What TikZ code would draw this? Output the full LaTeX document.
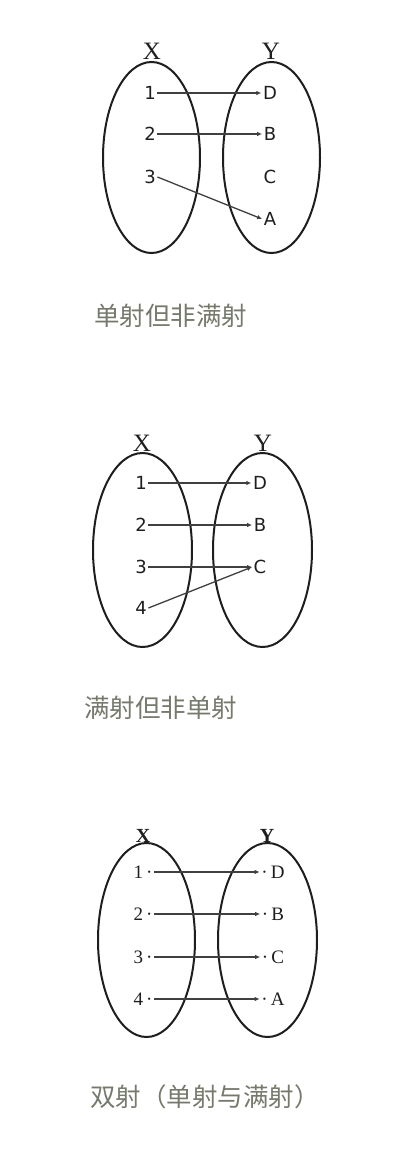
\documentclass[tikz,border=0pt]{standalone}
\usepackage{fontspec}
\usetikzlibrary{arrows.meta}
\newfontfamily\labfont{DejaVu Sans}
\newfontfamily\serffont{Liberation Serif}
\newfontfamily\cjk{Noto Sans CJK SC}
\definecolor{capgray}{RGB}{118,122,108}
\definecolor{ink}{RGB}{30,30,30}
\tikzset{
  setell/.style={draw=ink, line width=2pt},
  elem/.style={inner sep=1.5pt, font=\labfont\fontsize{18}{18}\selectfont, text=ink},
  selem/.style={inner sep=1.5pt, font=\serffont\fontsize{19}{19}\selectfont, text=ink},
  setname/.style={inner sep=0pt, font=\serffont\fontsize{25}{25}\selectfont, text=ink},
  bsetname/.style={inner sep=0pt, font=\serffont\bfseries\fontsize{20}{20}\selectfont, text=ink},
  arr/.style={draw=ink!85, line width=1.3pt, -{Latex[length=5pt,width=4.5pt]}},
  captext/.style={anchor=west, inner sep=0pt, font=\cjk\fontsize{25.5}{25.5}\selectfont, text=capgray}
}
\begin{document}
\begin{tikzpicture}[x=1pt,y=-1pt]
\useasboundingbox[fill=white] (0,0) rectangle (402,1162);
% ---------- diagram 1 ----------
\draw[setell] (151.5,157.5) ellipse [x radius=48.5, y radius=95.5];
\draw[setell] (271.5,157.5) ellipse [x radius=48.5, y radius=95.5];
\node[setname] (aX) at (152,51) {X};
\node[setname] (aY) at (271,51) {Y};
\node[elem] (a1) at (150,93) {1};
\node[elem] (a2) at (150,134) {2};
\node[elem] (a3) at (150,177) {3};
\node[elem] (aD) at (270,93) {D};
\node[elem] (aB) at (270,134) {B};
\node[elem] (aC) at (270,177) {C};
\node[elem] (aA) at (270,219) {A};
\draw[arr] (a1.east) -- (aD.west);
\draw[arr] (a2.east) -- (aB.west);
\draw[arr] (a3.east) -- (aA.west);
\node[captext] (capa) at (94,316) {单射但非满射};
% ---------- diagram 2 ----------
\draw[setell] (142.5,550) ellipse [x radius=49.5, y radius=97];
\draw[setell] (262.5,550) ellipse [x radius=49.5, y radius=97];
\node[setname] (bX) at (142,443) {X};
\node[setname] (bY) at (263,443) {Y};
\node[elem] (b1) at (141,483) {1};
\node[elem] (b2) at (141,525) {2};
\node[elem] (b3) at (141,567) {3};
\node[elem] (b4) at (141,608) {4};
\node[elem] (bD) at (260,483) {D};
\node[elem] (bB) at (260,525) {B};
\node[elem] (bC) at (260,567) {C};
\draw[arr] (b1.east) -- (bD.west);
\draw[arr] (b2.east) -- (bB.west);
\draw[arr] (b3.east) -- (bC.west);
\draw[arr] (b4.east) -- (bC.west);
\node[captext] (capb) at (84,708) {满射但非单射};
% ---------- diagram 3 ----------
\draw[setell] (146.5,940) ellipse [x radius=48.5, y radius=97];
\draw[setell] (267.5,940) ellipse [x radius=49.5, y radius=97];
\node[bsetname] (cX) at (143,836) {X};
\node[bsetname] (cY) at (267,836) {Y};
\node[selem] (c1) at (143,872) {1\,·};
\node[selem] (c2) at (143,914) {2\,·};
\node[selem] (c3) at (143,957) {3\,·};
\node[selem] (c4) at (143,999) {4\,·};
\node[selem] (cD) at (273,872) {·\,D};
\node[selem] (cB) at (273,914) {·\,B};
\node[selem] (cC) at (273,957) {·\,C};
\node[selem] (cA) at (273,999) {·\,A};
\draw[arr] (c1.east) -- (cD.west);
\draw[arr] (c2.east) -- (cB.west);
\draw[arr] (c3.east) -- (cC.west);
\draw[arr] (c4.east) -- (cA.west);
\node[captext] (capc) at (90,1097) {双射（单射与满射）};
\end{tikzpicture}
\end{document}
